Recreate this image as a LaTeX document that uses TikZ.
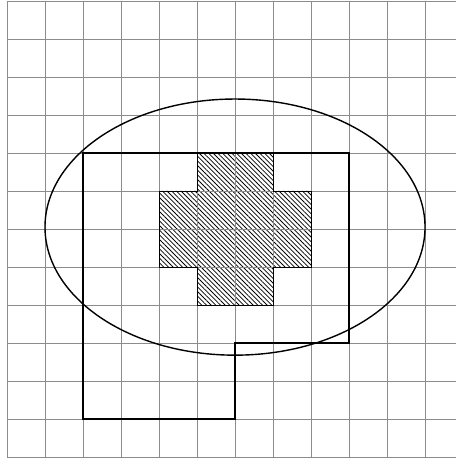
\documentclass[tikz,border=0pt]{standalone}
\usetikzlibrary{patterns.meta}
\begin{document}
\begin{tikzpicture}[scale=1.3357]
      \useasboundingbox(-0.184,-0.026)rectangle(11.79,12.026);
      \fill[pattern={Lines[angle=-45,distance=3.3pt,line width=0.75pt]}]
        (5,4)--(7,4)--(7,5)--(8,5)--(8,7)--(7,7)--(7,8)--(5,8)--(5,7)--(4,7)--(4,5)--(5,5)--cycle;
      \draw[gray!90,line width=0.5pt](0,0)grid(12,12);
      \draw[line width=0.7pt](5,4)--(7,4)--(7,5)--(8,5)--(8,7)--(7,7)--(7,8)--(5,8)--(5,7)--(4,7)--(4,5)--(5,5)--cycle;
      \draw[line width=2.6pt](2,8)--(9,8)--(9,3)--(6,3)--(6,1)--(2,1)--cycle;
      \draw[line width=1.4pt](6,6.05)ellipse(5 and 3.37);
    \end{tikzpicture}
\end{document}
